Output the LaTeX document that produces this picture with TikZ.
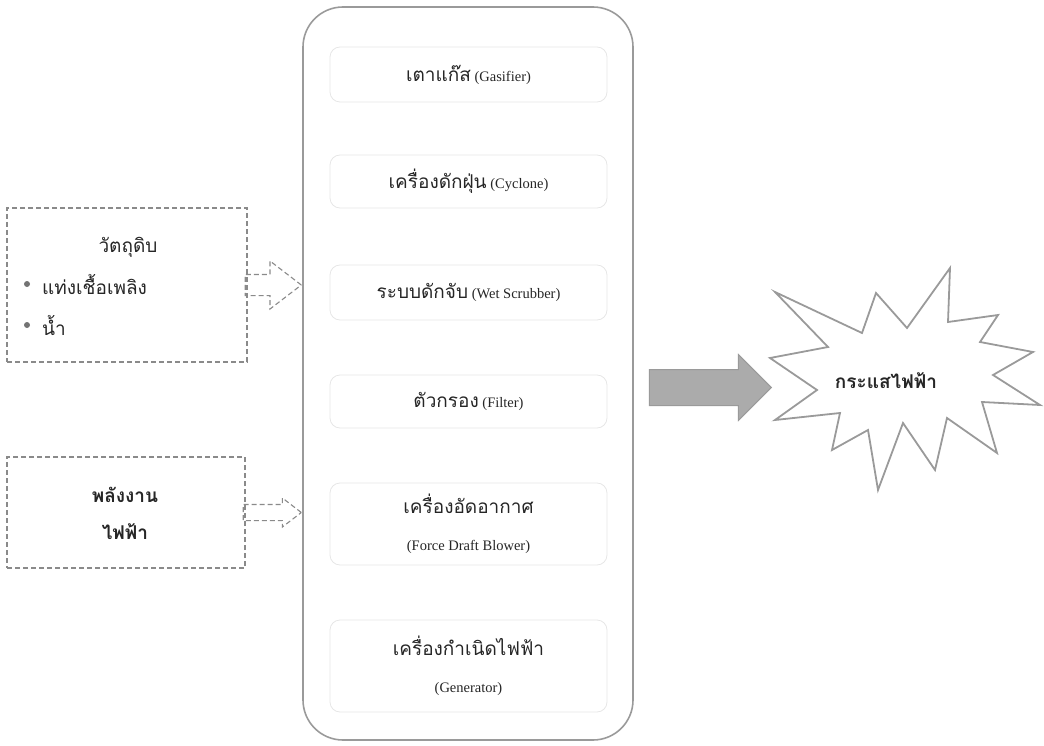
\documentclass[tikz,border=0pt]{standalone}
\usepackage{fontspec}
\setmainfont{Liberation Serif}
\newfontfamily\thaifont[Script=Thai]{Loma}
\usetikzlibrary{shapes.arrows,calc}
\newcommand\thaitxt[1]{{\thaifont\fontsize{19}{22}\selectfont #1}}
\definecolor{edgegray}{HTML}{9A9A9A}
\definecolor{dashgray}{HTML}{8A8A8A}
\definecolor{stagegray}{HTML}{E6E6E6}
\definecolor{arrowfill}{HTML}{ABABAB}
\begin{document}
\begin{tikzpicture}[x=1pt,y=-1pt,
  plantbox/.style={draw=edgegray, line width=1.6pt, rounded corners=40pt, inner sep=0pt},
  stage/.style={draw=stagegray, line width=0.8pt, rounded corners=10pt, minimum width=277pt,
    align=center, inner sep=0pt, font=\fontsize{14.5}{17}\selectfont, text=black!85},
  inbox/.style={draw=dashgray, line width=1.2pt, dash pattern=on 5pt off 3pt, inner sep=0pt},
  inlabel/.style={inner sep=0pt, text=black!85},
  bulletdot/.style={circle, fill=black!55, minimum size=6pt, inner sep=0pt},
  % shaft width = 2 * inner ysep, head width = shaft + 2 * head extend
  feedarrow/.style={single arrow, draw=dashgray, line width=1.1pt, dash pattern=on 5pt off 3pt,
    inner xsep=0pt, text height=0pt, text depth=0pt, single arrow tip angle=75, anchor=tip},
  outarrow/.style={single arrow, draw=edgegray, fill=arrowfill, line width=1pt,
    inner xsep=0pt, inner ysep=17.5pt, text height=0pt, text depth=0pt, anchor=tip,
    minimum height=122pt, single arrow head extend=15pt, single arrow tip angle=90},
  burstline/.style={draw=edgegray, line width=1.8pt, line join=miter}
]
\useasboundingbox (0,0) rectangle (1044,746);

% gasification plant and its stages
\node[plantbox, minimum width=330pt, minimum height=733pt] (plant) at (468,373.5) {};
\node[stage, minimum height=55pt] (gasifier) at (468.5,74.5)
  {\thaitxt{เตาแก๊ส} (Gasifier)};
\node[stage, minimum height=53pt] (cyclone) at (468.5,181.5)
  {\thaitxt{เครื่องดักฝุ่น} (Cyclone)};
\node[stage, minimum height=55pt] (scrubber) at (468.5,292.5)
  {\thaitxt{ระบบดักจับ} (Wet Scrubber)};
\node[stage, minimum height=53pt] (filter) at (468.5,401.5)
  {\thaitxt{ตัวกรอง} (Filter)};
\node[stage, minimum height=82pt] (blower) at (468.5,524)
  {\thaitxt{เครื่องอัดอากาศ}\\[20pt](Force Draft Blower)};
\node[stage, minimum height=92pt] (generator) at (468.5,666)
  {\thaitxt{เครื่องกำเนิดไฟฟ้า}\\[20pt](Generator)};

% inputs
\node[inbox, minimum width=240pt, minimum height=154pt] (raw) at (127,285) {};
\node[inlabel] (rawtitle) at (128,247) {\thaitxt{วัตถุดิบ}};
\node[bulletdot] (dotone) at (27,284) {};
\node[bulletdot] (dottwo) at (27,325) {};
\node[inlabel, anchor=west] (fuel) at (42,284) {\thaitxt{แท่งเชื้อเพลิง}};
\node[inlabel, anchor=west] (water) at (42,325) {\thaitxt{น้ำ}};

\node[inbox, minimum width=238pt, minimum height=111pt] (power) at (126,512.5) {};
\node[inlabel] (powerone) at (125,495) {\thaitxt{\bfseries พลังงาน}};
\node[inlabel] (powertwo) at (125,532) {\thaitxt{\bfseries ไฟฟ้า}};

% feed arrows into the plant, tip on the plant outline
\node[feedarrow, minimum height=56pt, inner ysep=10pt, single arrow head extend=13.5pt]
  (feedraw) at (raw.east -| plant.west) {};
\node[feedarrow, minimum height=58pt, inner ysep=7.5pt, single arrow head extend=6.5pt]
  (feedpower) at (power.east -| plant.west) {};

% output arrow and burst
\node[outarrow] (out) at (772,387.5) {};
\draw[burstline]
  (775,292) -- (862,333) -- (876,293) -- (907,328) -- (950,268) -- (948,322)
  -- (998,315) -- (980,342) -- (1033,352) -- (993,375) -- (1040,405) -- (982,402)
  -- (997,453) -- (947,418) -- (935,470) -- (903,423) -- (878,490) -- (868,430)
  -- (832,450) -- (840,413) -- (775,420) -- (817,390) -- (770,358) -- (828,347) -- cycle;
\node[inlabel] (current) at (886,381) {\thaitxt{\bfseries กระแสไฟฟ้า}};
\end{tikzpicture}
\end{document}
